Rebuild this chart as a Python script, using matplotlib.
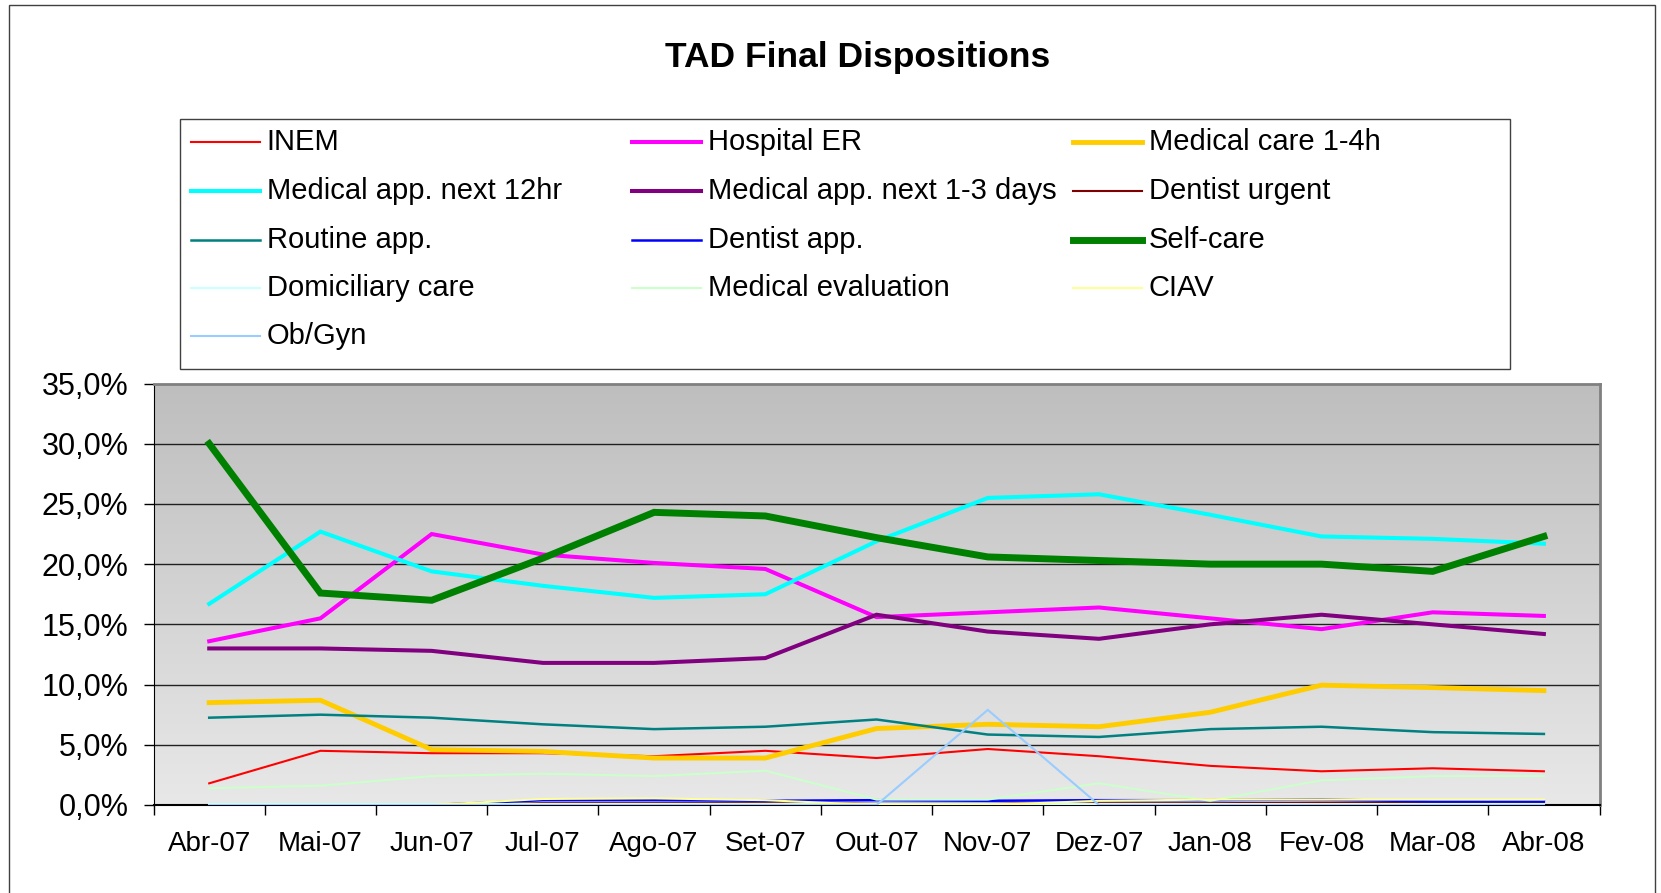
import matplotlib
matplotlib.use("Agg")
import matplotlib.pyplot as plt
from matplotlib.lines import Line2D
from matplotlib.patches import Rectangle
import numpy as np

plt.rcParams['font.family'] = ['Liberation Sans', 'DejaVu Sans']

meses = ['Abr-07', 'Mai-07', 'Jun-07', 'Jul-07', 'Ago-07', 'Set-07', 'Out-07',
         'Nov-07', 'Dez-07', 'Jan-08', 'Fev-08', 'Mar-08', 'Abr-08']

# valores em %
inem = [1.8, 4.5, 4.3, 4.3, 4.05, 4.5, 3.9, 4.65, 4.05, 3.25, 2.8, 3.05, 2.8]
hospital_er = [13.6, 15.5, 22.5, 20.8, 20.1, 19.6, 15.6, 16.0, 16.4, 15.5, 14.6, 16.0, 15.7]
med_care_1_4h = [8.5, 8.7, 4.6, 4.45, 3.9, 3.9, 6.35, 6.7, 6.5, 7.7, 9.95, 9.75, 9.5]
med_app_12hr = [16.7, 22.7, 19.4, 18.2, 17.2, 17.5, 21.9, 25.5, 25.8, 24.1, 22.3, 22.1, 21.7]
med_app_1_3d = [13.0, 13.0, 12.8, 11.8, 11.8, 12.2, 15.8, 14.4, 13.8, 15.0, 15.8, 15.0, 14.2]
dentist_urgent = [0.0, 0.0, 0.0, 0.15, 0.15, 0.15, 0.1, 0.1, 0.15, 0.15, 0.2, 0.2, 0.2]
routine_app = [7.25, 7.5, 7.25, 6.7, 6.3, 6.5, 7.1, 5.85, 5.65, 6.3, 6.5, 6.05, 5.9]
dentist_app = [0.0, 0.0, 0.0, 0.4, 0.4, 0.35, 0.4, 0.35, 0.4, 0.4, 0.45, 0.3, 0.3]
self_care = [30.0, 17.6, 17.0, 20.5, 24.3, 24.0, 22.2, 20.6, 20.3, 20.0, 20.0, 19.4, 22.3]
domiciliary = [0.05, 0.05, 0.05, 0.05, 0.05, 0.05, 0.05, 0.05, 0.05, 0.05, 0.05, 0.05, 0.05]
med_eval = [1.4, 1.6, 2.4, 2.6, 2.4, 2.85, 0.45, 0.45, 1.8, 0.35, 2.05, 2.4, 2.4]
ciav = [0.0, 0.0, 0.0, 0.5, 0.55, 0.4, 0.0, 0.0, 0.35, 0.45, 0.45, 0.45, 0.45]
ob_gyn = [0.0, 0.0, 0.0, 0.0, 0.0, 0.0, 0.0, 7.9, 0.0, 0.0, 0.0, 0.0, 0.0]

series = [
    ('INEM', inem, '#FF0000', 1.5),
    ('Hospital ER', hospital_er, '#FF00FF', 2.9),
    ('Medical care 1-4h', med_care_1_4h, '#FFCC00', 3.5),
    ('Medical app. next 12hr', med_app_12hr, '#00FFFF', 2.9),
    ('Medical app. next 1-3 days', med_app_1_3d, '#800080', 2.9),
    ('Dentist urgent', dentist_urgent, '#800000', 1.5),
    ('Routine app.', routine_app, '#008080', 1.8),
    ('Dentist app.', dentist_app, '#0000FF', 1.8),
    ('Self-care', self_care, '#008000', 5.0),
    ('Domiciliary care', domiciliary, '#CCFFFF', 1.5),
    ('Medical evaluation', med_eval, '#CCFFCC', 1.5),
    ('CIAV', ciav, '#FFFF99', 1.5),
    ('Ob/Gyn', ob_gyn, '#99CCFF', 1.5),
]

W, H = 1661, 893
fig = plt.figure(figsize=(W / 100, H / 100), dpi=100)
fig.patch.set_facecolor('white')

# moldura exterior
fig.patches.append(Rectangle((8.5 / W, -0.05), (1654.5 - 8.5) / W, 1.05 - 5.3 / H,
                             transform=fig.transFigure, fill=False,
                             edgecolor='#404040', linewidth=1.0))

ax = fig.add_axes([153.6 / W, 1 - 805 / H, (1599.5 - 153.6) / W, (805 - 383.5) / H])

# fundo em gradiente
grad = np.linspace(0, 1, 256).reshape(-1, 1)
ax.imshow(grad, extent=[0, 1, 0, 1], transform=ax.transAxes, aspect='auto',
          cmap=matplotlib.colors.LinearSegmentedColormap.from_list('g', ['#e8e8e8', '#bebebe']),
          origin='lower', zorder=0)

x = np.arange(len(meses))
for nome, vals, cor, lw in series:
    ax.plot(x, vals, color=cor, linewidth=lw, zorder=3, solid_joinstyle='miter')

ax.set_xlim(-0.5, len(meses) - 0.5)
ax.set_ylim(0, 35)

for v in np.arange(5, 35, 5):
    ax.axhline(v, color='#202020', linewidth=1.0, zorder=2)

ax.set_yticks(np.arange(0, 36, 5))
ax.set_yticklabels([('%.1f%%' % v).replace('.', ',') for v in np.arange(0, 36, 5)])
ax.tick_params(axis='y', labelsize=22, length=7, width=1, pad=11, direction='out')

ax.set_xticks(np.arange(-0.5, len(meses), 1))
ax.set_xticklabels([])
ax.set_xticks(x, minor=True)
ax.set_xticklabels(meses, minor=True)
ax.tick_params(axis='x', which='major', length=7, width=1, direction='out')
ax.tick_params(axis='x', which='minor', length=0, labelsize=20, pad=19)

ax.spines['left'].set_color('black')
ax.spines['bottom'].set_color('black')
ax.spines['bottom'].set_linewidth(1.5)
ax.spines['top'].set_color('#808080')
ax.spines['right'].set_color('#808080')
ax.spines['top'].set_linewidth(2)
ax.spines['right'].set_linewidth(2)

fig.text(858 / W, 1 - 58 / H, 'TAD Final Dispositions', ha='center', va='center',
         fontsize=25.5, fontweight='bold')

# legenda
fig.patches.append(Rectangle((180 / W, 1 - 368.6 / H), (1509.5 - 180) / W, (368.6 - 118.6) / H,
                             transform=fig.transFigure, fill=True, facecolor='white',
                             edgecolor='#404040', linewidth=1.0))
linhas_y = [141.5, 191.0, 239.5, 287.5, 336.0]
col_x = [190.7, 632.4, 1073.0]
for i, (nome, vals, cor, lw) in enumerate(series):
    r, c = i // 3, i % 3
    yy = 1 - linhas_y[r] / H
    x0 = col_x[c]
    fig.lines.append(Line2D([x0 / W, (x0 + 69) / W], [yy, yy], transform=fig.transFigure,
                            color=cor, linewidth=lw))
    fig.text((x0 + 76) / W, yy, nome, ha='left', va='center', fontsize=21)

fig.savefig('out.png', dpi=100)
